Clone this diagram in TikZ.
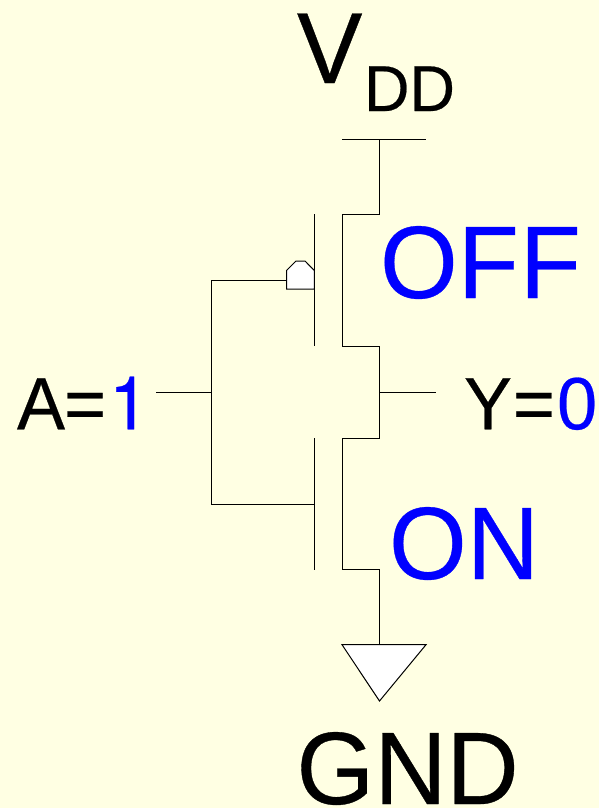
\documentclass[tikz,border=0pt]{standalone}
\usepackage{fontspec}
\setmainfont[FakeBold=0.35]{Liberation Sans}
\newfontfamily\digitfont[FakeBold=0.35]{TeX Gyre Heros}
\definecolor{bgc}{RGB}{255,255,227}
\definecolor{sigblue}{RGB}{0,0,255}
\tikzset{
  wire/.style={draw=black,line width=1pt,line cap=butt,line join=miter},
  gatefill/.style={wire,fill=white},
  lbl/.style={inner sep=0pt,outer sep=0pt,anchor=base west,text=black,yscale=1.03},
  state/.style={lbl,text=sigblue}
}
\newcommand{\fs}[1]{\fontsize{#1}{#1}\selectfont}
\begin{document}
\begin{tikzpicture}[x=1pt,y=-1pt]
\useasboundingbox[fill=bgc] (0,0) rectangle (599,808);
% named points
\coordinate (vddL) at (342,139.5);
\coordinate (vddR) at (426,139.5);
\coordinate (vddT) at (379.5,139.5);
\coordinate (pTop) at (379.5,214);
\coordinate (pTopL) at (342.3,214);
\coordinate (pBotL) at (342.3,346);
\coordinate (mid1) at (379.5,346);
\coordinate (out) at (379.5,392.5);
\coordinate (outEnd) at (436,392.5);
\coordinate (mid2) at (379.5,438);
\coordinate (nTopL) at (342.3,438);
\coordinate (nBotL) at (342.3,569.7);
\coordinate (nBot) at (379.5,569.7);
\coordinate (gndTop) at (379.5,644.7);
\coordinate (gndL) at (342,644.7);
\coordinate (gndR) at (426,644.7);
\coordinate (gndTip) at (379.5,701);
\coordinate (inEnd) at (156,392.5);
\coordinate (inJ) at (211.8,392.5);
\coordinate (gTop) at (211.8,280.5);
\coordinate (gBot) at (211.8,504.5);
\coordinate (bubL) at (286.5,280.5);
\coordinate (nGate) at (314.3,504.5);
\coordinate (pg1) at (314.3,214);
\coordinate (pg2) at (314.3,346);
\coordinate (ng1) at (314.3,438);
\coordinate (ng2) at (314.3,570);
% wires
\draw[wire] (vddL) -- (vddR);
\draw[wire] (vddT) -- (pTop) -- (pTopL) -- (pBotL) -- (mid1) -- (mid2) -- (nTopL) -- (nBotL) -- (nBot) -- (gndTop);
\draw[wire] (out) -- (outEnd);
\draw[wire] (inEnd) -- (inJ);
\draw[wire] (bubL) -- (gTop) -- (gBot) -- (nGate);
\draw[wire] (pg1) -- (pg2);
\draw[wire] (ng1) -- (ng2);
% PMOS gate bubble
\draw[gatefill] (286.5,289) -- (286.5,270.5) -- (296,261) -- (305,261) -- (314.3,270.5) -- (314.3,289) -- cycle;
% ground
\draw[gatefill] (gndL) -- (gndR) -- (gndTip) -- cycle;
% labels
\node[lbl] (vdd) at (297,83) {\fs{98}V};
\node[lbl] (dd) at (364,111) {\fs{63}DD};
\node[state] (off) at (380,298) {\fs{100}OF\kern1pt F};
\node[state] (on) at (389,579) {\fs{100}ON};
\node[lbl] (a) at (17,429.3) {\fs{72}A\kern-1pt=\kern3pt\textcolor{sigblue}{\digitfont 1}};
\node[lbl] (y) at (464,429.3) {\fs{72}Y\kern1pt=\kern2pt\textcolor{sigblue}{0}};
\node[lbl] (gnd) at (296.5,804) {\fs{100}GND};
\end{tikzpicture}
\end{document}
